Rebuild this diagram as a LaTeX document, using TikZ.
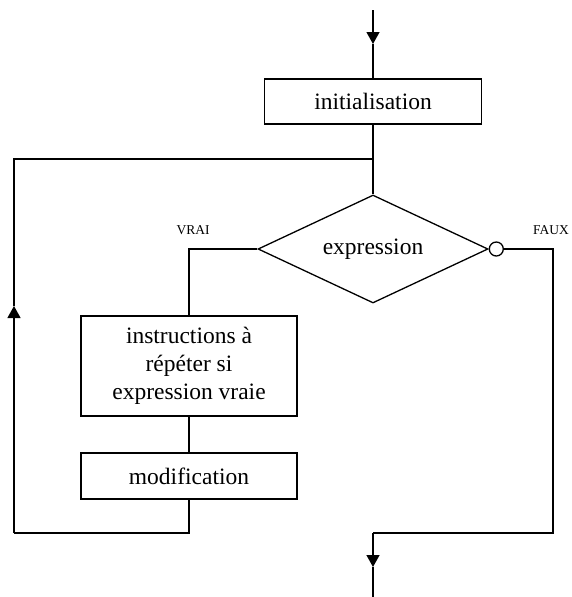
\documentclass[tikz,border=0pt]{standalone}
\usepackage{fontspec}
\setmainfont{Liberation Serif}
\usetikzlibrary{shapes.geometric,arrows.meta}
\begin{document}
\begin{tikzpicture}[x=1pt,y=-1pt, line width=1.3pt,
  box/.style={draw, rectangle, inner sep=0pt, font=\fontsize{23.5}{28}\selectfont, align=center},
  lbl/.style={font=\fontsize{13.5}{16}\selectfont, inner sep=0pt},
  tip/.style={-{Triangle[length=12pt,width=13pt]}}]
\useasboundingbox (0,0) rectangle (571,597);
\node[box, minimum width=217pt, minimum height=45pt] (init) at (373,101.5) {initialisation};
\node[draw, diamond, aspect=2.13, inner sep=0pt, minimum width=230pt, minimum height=108pt, font=\fontsize{23.5}{28}\selectfont] (expr) at (373,249) {expression};
\node[draw, circle, inner sep=0pt, minimum size=14pt, anchor=west] (c) at (expr.east) {};
\node[box, minimum width=216pt, minimum height=100pt] (inst) at (189,366) {instructions à\\répéter si\\expression vraie};
\node[box, minimum width=216pt, minimum height=46pt] (modif) at (189,476) {modification};
\node[lbl] (vrai) at (193,230) {VRAI};
\node[lbl] (faux) at (551,230) {FAUX};
% top entry
\coordinate (start) at (373,10);
\coordinate (a1) at (373,44);
\draw[tip] (start) -- (a1);
\draw (a1) -- (init.north);
\draw (init.south) -- (expr.north);
% loop back
\coordinate (lj) at (373,159);
\coordinate (lt) at (14,159);
\coordinate (lb) at (14,533);
\coordinate (a2) at (14,306);
\draw (modif.south) |- (lb);
\draw[tip] (lb) -- (a2);
\draw (a2) -- (lt) -- (lj);
% true branch
\draw (expr.west) -| (inst.north);
\draw (inst.south) -- (modif.north);
% false branch
\coordinate (rb) at (553,533);
\coordinate (bj) at (373,533);
\coordinate (a3) at (373,567);
\coordinate (fin) at (373,597);
\draw (c.east) -| (rb) -- (bj);
\draw[tip] (bj) -- (a3);
\draw (a3) -- (fin);
\end{tikzpicture}
\end{document}
